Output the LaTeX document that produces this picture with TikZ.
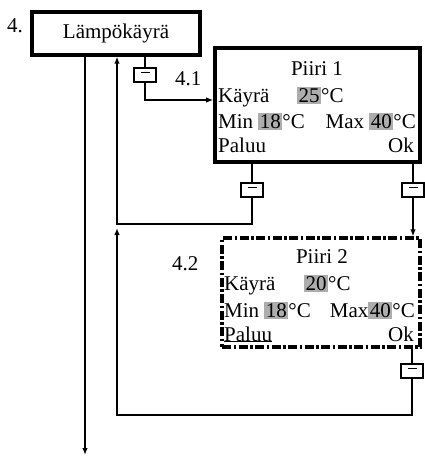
\documentclass[tikz,border=0pt]{standalone}
\usepackage{fontspec}
\setmainfont{Liberation Serif}
\usetikzlibrary{arrows.meta}
\definecolor{hlgray}{gray}{0.68}
\newcommand{\hl}[1]{{\fboxsep=1.5pt\colorbox{hlgray}{#1}}}
\tikzset{
	menu/.style={draw,line width=3.6pt,inner sep=0pt},
	minusbox/.style={draw,line width=1.4pt,minimum width=22pt,minimum height=14pt,inner sep=0pt},
	txt/.style={inner sep=0pt,anchor=base west},
	txtr/.style={inner sep=0pt,anchor=base east},
	conn/.style={line width=1.4pt},
	arr/.style={conn,-{Latex[length=7pt,width=5.5pt]}},
}
\begin{document}
\begin{tikzpicture}[x=1pt,y=-1pt,font=\fontsize{21}{25}\selectfont]
	\useasboundingbox (0,0) rectangle (425,458);
	\path 
	(85,455) coordinate (down)
	(117,224) coordinate (ret1)
	(117,415) coordinate (ret2)
	(117,228) coordinate (ret2end)
	;
	\node[menu,line width=3.2pt,minimum width=168pt,minimum height=43pt] (lampo) at (116,33.5) {Lämpökäyrä};
	\node[menu,minimum width=205pt,minimum height=114pt] (piiri1) at (317.5,105) {};
	\node[menu,line width=3.2pt,dash pattern=on 9pt off 2.5pt on 2.5pt off 2.5pt,minimum width=198pt,minimum height=109pt] (piiri2) at (321,292.5) {};
	\node[txt] (n4) at (7,32) {4.};
	\node[txt] (n41) at (175,85) {4.1};
	\node[txt] (n42) at (172,270) {4.2};
	\foreach \m/\x/\y in {m1/145/75, m2/252/190, m3/413/190, m4/412/371}{
		\node[minusbox,fill=white] (\m) at (\x,\y) {\rule[0.5ex]{9pt}{1.3pt}};
	}
	\node[inner sep=0pt,anchor=base] (t1) at (317,75) {Piiri 1};
	\node[txt] (k1) at (218,102) {Käyrä};
	\node[txt] (v1) at (297,102) {\hl{25}°C};
	\node[txt] (mn1) at (218,128) {Min \hl{18}°C};
	\node[txtr] (mx1) at (416,128) {Max \hl{40}°C};
	\node[txt] (p1) at (218,152) {Paluu};
	\node[txtr] (o1) at (414,152) {Ok};
	\node[inner sep=0pt,anchor=base] (t2) at (322,263) {Piiri 2};
	\node[txt] (k2) at (224,290) {Käyrä};
	\node[txt] (v2) at (304,290) {\hl{20}°C};
	\node[txt] (mn2) at (224,317) {Min \hl{18}°C};
	\node[txtr] (mx2) at (415,317) {Max\hl{40}°C};
	\node[txt] (p2) at (224,341) {Paluu};
	\node[txtr] (o2) at (414,341) {Ok};
	\draw[line width=1pt] (p2.base west) -- (p2.base east);
	\draw[arr] (lampo.south -| down) -- (down);
	\draw[conn] (lampo.south -| m1) -- (m1);
	\draw[arr] (m1.south) |- ([yshift=5pt]piiri1.west);
	\draw[conn] (piiri1.south -| m2) -- (m2);
	\draw[arr] (m2.south) |- (ret1) -- (lampo.south -| ret1);
	\draw[conn] (piiri1.south -| m3) -- (m3);
	\draw[arr] (m3.south) -- (piiri2.north -| m3);
	\draw[conn] (piiri2.south -| m4) -- (m4);
	\draw[arr] (m4.south) |- (ret2) -- (ret2end);
\end{tikzpicture}
\end{document}
